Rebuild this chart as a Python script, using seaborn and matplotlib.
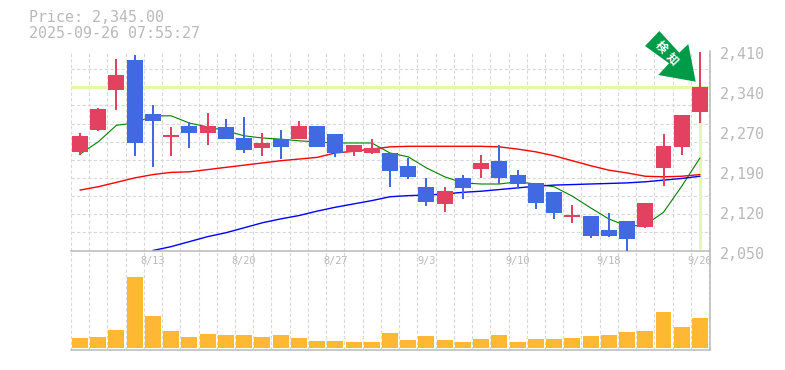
# daily candlestick chart with moving averages and volume
import numpy as np; import pandas as pd
import matplotlib
matplotlib.use("Agg")
import matplotlib.pyplot as plt
from matplotlib.patches import Polygon
from matplotlib.transforms import ScaledTranslation
import seaborn as sns

open_ = [2228, 2267, 2340, 2394, 2296, 2255, 2275, 2262, 2273, 2253, 2235, 2251, 2251, 2275, 2260, 2228, 2226, 2226,
         2202, 2165, 2134, 2181, 2197, 2211, 2186, 2172, 2155, 2110, 2112, 2087, 2103, 2092, 2199, 2237, 2300]
high = [2262, 2307, 2395, 2403, 2312, 2273, 2282, 2298, 2287, 2291, 2262, 2267, 2284, 2275, 2260, 2240, 2251, 2226,
        2217, 2181, 2165, 2186, 2222, 2240, 2195, 2172, 2155, 2132, 2112, 2118, 2103, 2136, 2260, 2294, 2408]
low = [2222, 2266, 2303, 2220, 2201, 2220, 2235, 2240, 2251, 2226, 2220, 2215, 2251, 2237, 2219, 2220, 2224, 2165,
       2179, 2130, 2120, 2143, 2181, 2170, 2161, 2125, 2107, 2100, 2072, 2074, 2050, 2091, 2166, 2222, 2280]
close = [2257, 2305, 2367, 2244, 2284, 2258, 2262, 2275, 2251, 2231, 2244, 2237, 2275, 2237, 2226, 2240, 2235, 2193,
         2183, 2137, 2157, 2163, 2208, 2181, 2170, 2136, 2118, 2114, 2076, 2076, 2071, 2136, 2238, 2294, 2345]
ma_short = [2224, 2246, 2276, 2280, 2293, 2293, 2280, 2273, 2266, 2257, 2253, 2251, 2248, 2246, 2244, 2244, 2244, 2226,
            2219, 2199, 2183, 2172, 2170, 2170, 2174, 2170, 2165, 2148, 2127, 2107, 2094, 2096, 2119, 2166, 2217]
ma_mid = [2159, 2165, 2173, 2181, 2187, 2191, 2192, 2196, 2200, 2204, 2208, 2212, 2215, 2218, 2226, 2229, 2233, 2237,
          2238, 2238, 2238, 2238, 2238, 2237, 2233, 2228, 2221, 2212, 2203, 2195, 2190, 2184, 2183, 2184, 2187]
ma_long = [np.nan, np.nan, np.nan, np.nan, 2050, 2057, 2066, 2075, 2082, 2091, 2100, 2107, 2113, 2121, 2128, 2134, 2140,
           2147, 2149, 2150, 2152, 2155, 2157, 2160, 2163, 2166, 2168, 2169, 2170, 2171, 2172, 2174, 2177, 2180, 2184]
volume = [10, 11, 18, 71, 32, 17, 11, 14, 13, 13, 11, 13, 10, 7, 7, 6, 6, 15,
          8, 12, 8, 6, 9, 13, 6, 9, 9, 10, 12, 13, 16, 17, 36, 21, 30]
date_pos = [4, 9, 14, 19, 24, 29, 34]
date_labels = ["8/13", "8/20", "8/27", "9/3", "9/10", "9/18", "9/26"]
price_ticks = [2050, 2122, 2194, 2266, 2338, 2410]
price_labels = ["2,050", "2,120", "2,190", "2,270", "2,340", "2,410"]
last_price = 2345

GRAY = "#b9b9b9"
UP = "#e2425f"
DOWN = "#4169e1"
PALE = "#e5f6b0"
GRID = "#d8d8d8"
MONO = "DejaVu Sans Mono"

sns.set_theme(style="white")
W, H = 785, 370


def px(x, y):
    return x / W, 1 - y / H


df = pd.DataFrame({"day": np.arange(len(close)), "open": open_, "high": high, "low": low, "close": close,
                   "short": ma_short, "mid": ma_mid, "long": ma_long, "volume": volume})
df["color"] = np.where(df["close"] >= df["open"], UP, DOWN)

fig = plt.figure(figsize=(W / 100, H / 100), dpi=100)
ax = fig.add_axes([70.5 / W, 1 - 250.5 / H, 639.5 / W, 199.5 / H])
ax2 = fig.add_axes([70.5 / W, 1 - 350 / H, 639.5 / W, 99.5 / H])

# current price guide lines
ax.axhline(last_price, color=PALE, lw=2.2, zorder=1)
ax.vlines(34, 2052, last_price, color=PALE, lw=2.2, zorder=1)

sns.lineplot(data=df, x="day", y="short", color="#008000", lw=0.8, ax=ax, zorder=2, errorbar=None)
sns.lineplot(data=df, x="day", y="mid", color="#ff0000", lw=1.0, ax=ax, zorder=2, errorbar=None)
sns.lineplot(data=df, x="day", y="long", color="#0000ff", lw=1.0, ax=ax, zorder=2, errorbar=None)

ax.vlines(df["day"], df["low"], df["high"], colors=df["color"], lw=1.44, zorder=3)
ax.bar(df["day"], (df["close"] - df["open"]).abs(), bottom=df[["open", "close"]].min(axis=1),
       width=0.877, color=df["color"], lw=0, zorder=4)

sns.barplot(data=df, x="day", y="volume", native_scale=True, width=0.877, color="#ffb833", saturation=1,
            linewidth=0, ax=ax2, zorder=3)

for a in (ax, ax2):
    a.set_xlim(-0.52, 34.55)
    a.set_xlabel(""); a.set_ylabel("")
    a.set_xticks(np.arange(-0.5, 35), minor=True)
    a.grid(which="minor", axis="x", color=GRID, lw=0.8, ls=(0, (3, 2)))
    a.set_axisbelow(True)
    a.spines[["left", "top"]].set_visible(False)
    for s in ("right", "bottom"):
        a.spines[s].set_color(GRAY)
        a.spines[s].set_linewidth(1.1)
    a.tick_params(which="both", length=0)

ax.set_ylim(2050, 2410)
ax.set_yticks(np.linspace(2050, 2410, 12), minor=True)
ax.grid(which="minor", axis="y", color=GRID, lw=0.8, ls=(0, (3, 2)))
ax.yaxis.tick_right()
ax.set_yticks(price_ticks, price_labels, family=MONO, fontsize=10.8, color=GRAY)
ax.tick_params(axis="y", pad=7)
for lab in ax.get_yticklabels():
    lab.set_transform(lab.get_transform() + ScaledTranslation(0, -1.5 / 72, fig.dpi_scale_trans))
ax.set_xticks(date_pos, date_labels, family=MONO, fontsize=7.4, color=GRAY)
ax.tick_params(axis="x", pad=4)

ax2.set_ylim(-2, 97.5)
ax2.set_yticks([])
ax2.set_xticks([])
ax2.patch.set_alpha(0)
ax.set_zorder(2)
ax.patch.set_alpha(0)

fig.text(*px(29, 18), "Price: 2,345.00", family=MONO, fontsize=10.8, color=GRAY, va="center")
fig.text(*px(29, 33), "2025-09-26 07:55:27", family=MONO, fontsize=10.8, color=GRAY, va="center")

# signal arrow
arrow = [(659.3, 31), (645, 46), (669, 63.3), (658.3, 75), (695.7, 81.7), (688.3, 44), (679.3, 52.7)]
fig.add_artist(Polygon([px(*p) for p in arrow], closed=True, transform=fig.transFigure, color="#009b48", lw=0, zorder=10))
for ch, pos in zip("検知", [(661.5, 47.5), (672, 59)]):
    fig.text(*px(*pos), ch, family=["Noto Sans CJK JP", "DejaVu Sans"], weight="bold", fontsize=8.4, color="white",
             rotation=-47, rotation_mode="anchor", ha="center", va="center", zorder=11)

fig.savefig("out.png", dpi=100)
